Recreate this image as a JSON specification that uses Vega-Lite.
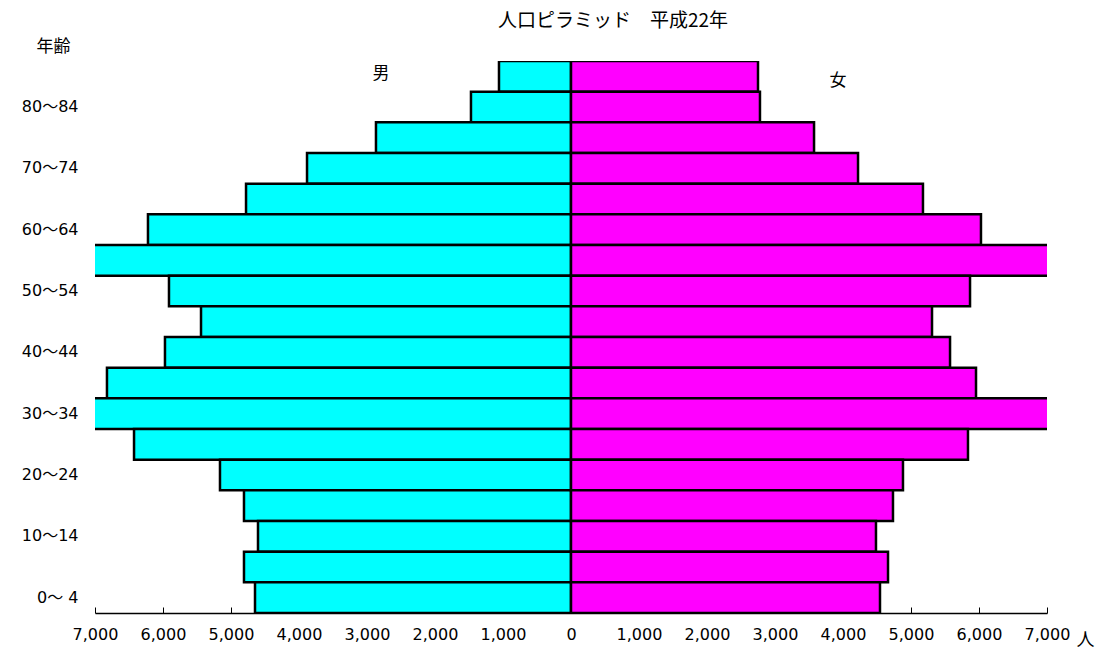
{
  "$schema": "https://vega.github.io/schema/vega-lite/v6.json",
  "width": 952,
  "height": 552,
  "autosize": "none",
  "padding": {"left": 95, "top": 61, "right": 51, "bottom": 38},
  "background": "white",
  "title": {
    "text": "人口ピラミッド　平成22年",
    "anchor": "start",
    "frame": "group",
    "dx": 403,
    "offset": 6,
    "fontSize": 19,
    "fontWeight": "normal",
    "font": "Noto Sans CJK JP",
    "color": "black"
  },
  "config": {
    "view": {"stroke": null},
    "font": "Noto Sans CJK JP"
  },
  "data": {
    "values": [
      {"age": "85～", "sex": "男", "pop": -1059},
      {"age": "80～84", "sex": "男", "pop": -1471},
      {"age": "75～79", "sex": "男", "pop": -2868},
      {"age": "70～74", "sex": "男", "pop": -3882},
      {"age": "65～69", "sex": "男", "pop": -4779},
      {"age": "60～64", "sex": "男", "pop": -6221},
      {"age": "55～59", "sex": "男", "pop": -7350},
      {"age": "50～54", "sex": "男", "pop": -5912},
      {"age": "45～49", "sex": "男", "pop": -5441},
      {"age": "40～44", "sex": "男", "pop": -5971},
      {"age": "35～39", "sex": "男", "pop": -6824},
      {"age": "30～34", "sex": "男", "pop": -7200},
      {"age": "25～29", "sex": "男", "pop": -6426},
      {"age": "20～24", "sex": "男", "pop": -5162},
      {"age": "15～19", "sex": "男", "pop": -4809},
      {"age": "10～14", "sex": "男", "pop": -4603},
      {"age": "5～9", "sex": "男", "pop": -4809},
      {"age": "0～ 4", "sex": "男", "pop": -4647},
      {"age": "85～", "sex": "女", "pop": 2750},
      {"age": "80～84", "sex": "女", "pop": 2779},
      {"age": "75～79", "sex": "女", "pop": 3574},
      {"age": "70～74", "sex": "女", "pop": 4221},
      {"age": "65～69", "sex": "女", "pop": 5176},
      {"age": "60～64", "sex": "女", "pop": 6029},
      {"age": "55～59", "sex": "女", "pop": 7200},
      {"age": "50～54", "sex": "女", "pop": 5868},
      {"age": "45～49", "sex": "女", "pop": 5309},
      {"age": "40～44", "sex": "女", "pop": 5574},
      {"age": "35～39", "sex": "女", "pop": 5956},
      {"age": "30～34", "sex": "女", "pop": 7300},
      {"age": "25～29", "sex": "女", "pop": 5838},
      {"age": "20～24", "sex": "女", "pop": 4882},
      {"age": "15～19", "sex": "女", "pop": 4735},
      {"age": "10～14", "sex": "女", "pop": 4485},
      {"age": "5～9", "sex": "女", "pop": 4662},
      {"age": "0～ 4", "sex": "女", "pop": 4544}
    ]
  },
  "layer": [
    {
      "mark": {"type": "bar", "stroke": "black", "strokeWidth": 2.5, "clip": true},
      "encoding": {
        "y": {
          "field": "age",
          "type": "nominal",
          "scale": {
            "domain": ["85～","80～84","75～79","70～74","65～69","60～64","55～59","50～54","45～49","40～44","35～39","30～34","25～29","20～24","15～19","10～14","5～9","0～ 4"],
            "paddingInner": 0, "paddingOuter": 0
          },
          "axis": {
            "values": ["80～84","70～74","60～64","50～54","40～44","30～34","20～24","10～14","0～ 4"],
            "domain": false,
            "ticks": false,
            "labelPadding": 17,
            "labelFontSize": 16,
            "labelColor": "black",
            "labelFont": "DejaVu Sans, Noto Sans CJK JP",
            "title": "年齢",
            "titleAngle": 0,
            "titleX": -42,
            "titleY": -15,
            "titleAlign": "center",
            "titleBaseline": "middle",
            "titleFontSize": 17,
            "titleFontWeight": "normal",
            "titleColor": "black",
            "titleFont": "Noto Sans CJK JP"
          }
        },
        "x": {
          "field": "pop",
          "type": "quantitative",
          "scale": {"domain": [-7000, 7000], "nice": false, "zero": false},
          "axis": {
            "values": [-7000,-6000,-5000,-4000,-3000,-2000,-1000,0,1000,2000,3000,4000,5000,6000,7000],
            "labelExpr": "format(abs(datum.value), ',')",
            "labelOverlap": false,
            "labelBound": false,
            "labelFlush": false,
            "grid": false,
            "domainColor": "black",
            "domainWidth": 1.5,
            "tickColor": "black",
            "tickSize": -6,
            "tickWidth": 1,
            "labelPadding": 19,
            "labelFontSize": 16,
            "labelColor": "black",
            "labelFont": "DejaVu Sans",
            "title": "人",
            "titleX": 990,
            "titleY": 27,
            "titleAlign": "center",
            "titleBaseline": "middle",
            "titleFontSize": 18,
            "titleFontWeight": "normal",
            "titleColor": "black",
            "titleFont": "Noto Sans CJK JP"
          }
        },
        "color": {
          "field": "sex",
          "type": "nominal",
          "scale": {"domain": ["男", "女"], "range": ["#00FFFF", "#FF00FF"]},
          "legend": null
        }
      }
    },
    {
      "data": {"values": [{"label": "男", "x": -2794, "age": "85～"}]},
      "mark": {"type": "text", "fontSize": 17, "font": "Noto Sans CJK JP", "color": "black", "baseline": "middle", "align": "center", "dy": -2},
      "encoding": {
        "x": {"field": "x", "type": "quantitative"},
        "y": {"field": "age", "type": "nominal"},
        "text": {"field": "label"}
      }
    },
    {
      "data": {"values": [{"label": "女", "x": 3926, "age": "85～"}]},
      "mark": {"type": "text", "fontSize": 17, "font": "Noto Sans CJK JP", "color": "black", "baseline": "middle", "align": "center", "dy": 5},
      "encoding": {
        "x": {"field": "x", "type": "quantitative"},
        "y": {"field": "age", "type": "nominal"},
        "text": {"field": "label"}
      }
    }
  ]
}
